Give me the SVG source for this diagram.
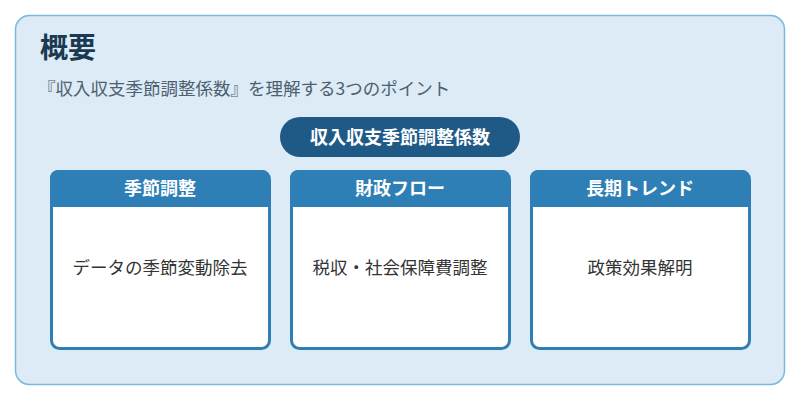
<svg xmlns="http://www.w3.org/2000/svg" width="800" height="400" viewBox="0 0 800 400">
<style>
.t{font-family:"Noto Sans CJK JP","Noto Sans",sans-serif}
.card{fill:#fff;stroke:#2e7fb6;stroke-width:3}
.hd{fill:#2e7fb6}
.ht{font-size:18px;font-weight:bold;fill:#fff;text-anchor:middle}
.bt{font-size:17.5px;fill:#333;text-anchor:middle}
</style>
<rect x="15.5" y="15.5" width="769" height="369" rx="14" fill="#dcebf6" stroke="#7fb6da" stroke-width="1.5"/>
<text class="t" x="40" y="58" font-size="28" font-weight="bold" fill="#1b3a52">概要</text>
<text class="t" x="38" y="95" font-size="17.5" fill="#4d6070">『収入収支季節調整係数』を理解する3つのポイント</text>
<g id="center">
<rect x="280" y="117" width="240" height="40" rx="20" fill="#1f5a87"/>
<text class="t ht" x="400" y="144">収入収支季節調整係数</text>
</g>
<g id="card1">
<rect class="card" x="51.5" y="171.5" width="218" height="177" rx="8"/>
<path class="hd" d="M50 207V178a8 8 0 0 1 8-8h204a8 8 0 0 1 8 8v29z"/>
<text class="t ht" x="160" y="195">季節調整</text>
<text class="t bt" x="160" y="274">データの季節変動除去</text>
</g>
<g id="card2">
<rect class="card" x="291.5" y="171.5" width="218" height="177" rx="8"/>
<path class="hd" d="M290 207V178a8 8 0 0 1 8-8h204a8 8 0 0 1 8 8v29z"/>
<text class="t ht" x="400" y="195">財政フロー</text>
<text class="t bt" x="400" y="274">税収・社会保障費調整</text>
</g>
<g id="card3">
<rect class="card" x="531.5" y="171.5" width="218" height="177" rx="8"/>
<path class="hd" d="M530 207V178a8 8 0 0 1 8-8h204a8 8 0 0 1 8 8v29z"/>
<text class="t ht" x="640" y="195">長期トレンド</text>
<text class="t bt" x="640" y="274">政策効果解明</text>
</g>
<g id="connectors"></g>
</svg>
